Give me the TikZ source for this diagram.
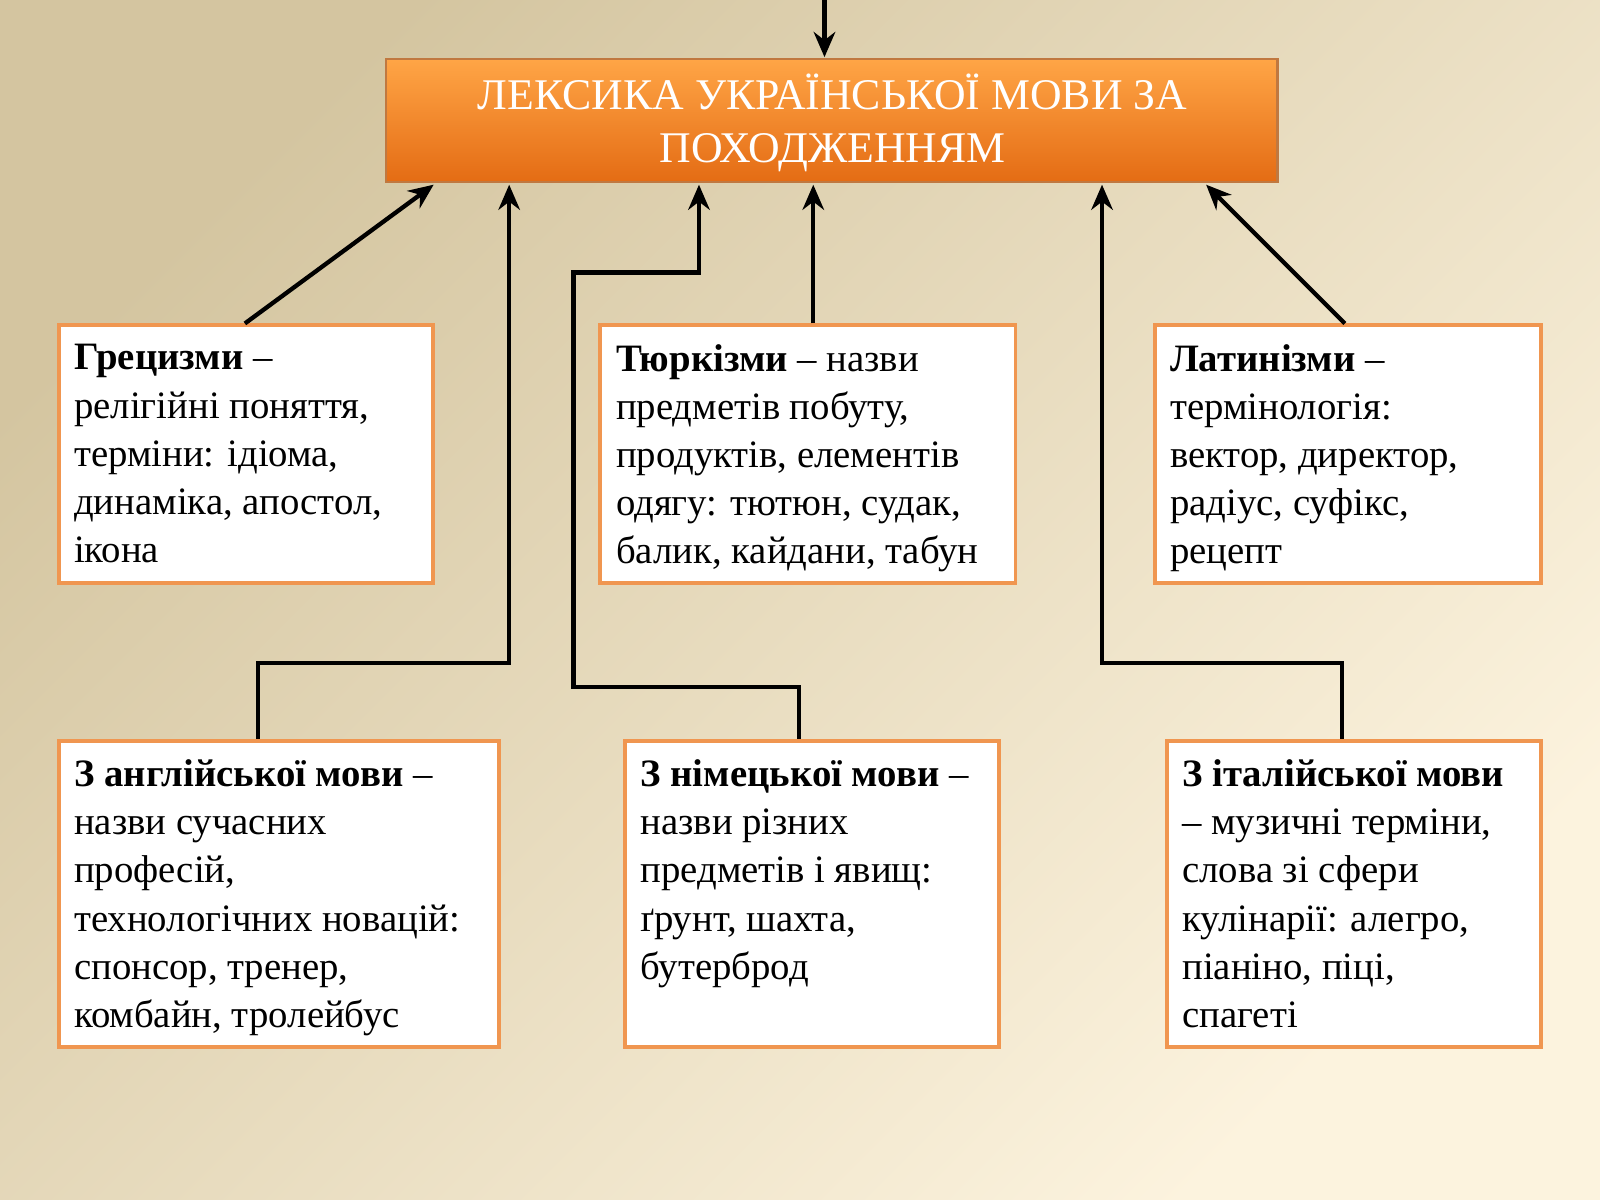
\documentclass[tikz,border=0pt]{standalone}
\usepackage{fontspec}
\setmainfont{Liberation Serif}
\usetikzlibrary{arrows.meta}
\definecolor{BoxLine}{RGB}{240,150,80}
\definecolor{BgDark}{RGB}{212,197,160}
\definecolor{BgLight}{RGB}{252,243,222}
\definecolor{TitleTop}{RGB}{255,165,70}
\definecolor{TitleBot}{RGB}{228,108,20}
\tikzset{
  catbox/.style={draw=BoxLine,line width=1.1pt,fill=white,anchor=north west,inner sep=0pt},
  cattext/.style={anchor=north west,align=left,inner sep=0pt,font=\fontsize{10.8}{13.4}\selectfont},
  link/.style={line width=1.2pt,-{Stealth[length=7pt,width=6pt]}}
}
\begin{document}
\begin{tikzpicture}[x=0.01cm,y=-0.01cm]
  \shade[left color=BgDark,right color=BgLight,shading angle=45] (0,0) rectangle (1568,1176);
  \useasboundingbox (0,0) rectangle (1568,1176);

  % title
  \shade[top color=TitleTop,bottom color=TitleBot,draw=BoxLine!80!black,line width=0.6pt] (378,58) rectangle (1252,178);
  \node[inner sep=0pt,minimum width=8.74cm,minimum height=1.2cm,anchor=north west,align=center,text=white,
        font=\fontsize{12.2}{14.7}\selectfont] (title) at (378,60) {ЛЕКСИКА УКРАЇНСЬКОЇ МОВИ ЗА\\ПОХОДЖЕННЯМ};
  \coordinate (topin) at (808,0);

  % boxes
  \node[catbox,minimum width=3.66cm,minimum height=2.52cm] (greek) at (56,317) {};
  \node[catbox,minimum width=4.07cm,minimum height=2.52cm] (turk) at (586,317) {};
  \node[catbox,minimum width=3.78cm,minimum height=2.52cm] (latin) at (1130,317) {};
  \node[catbox,minimum width=4.31cm,minimum height=3.00cm] (engl) at (56,724) {};
  \node[catbox,minimum width=3.66cm,minimum height=3.00cm] (germ) at (611,724) {};
  \node[catbox,minimum width=3.66cm,minimum height=3.00cm] (ital) at (1142,724) {};

  \node[cattext] (greektxt) at (72,337) {\textbf{Грецизми} –\\релігійні поняття,\\терміни: ідіома,\\динаміка, апостол,\\ікона};
  \node[cattext] (turktxt) at (603,337) {\textbf{Тюркізми} – назви\\предметів побуту,\\продуктів, елементів\\одягу: тютюн, судак,\\балик, кайдани, табун};
  \node[cattext] (latintxt) at (1146,337) {\textbf{Латинізми} –\\термінологія:\\вектор, директор,\\радіус, суфікс,\\рецепт};
  \node[cattext] (engltxt) at (72,744) {\textbf{З англійської мови} –\\назви сучасних\\професій,\\технологічних новацій:\\спонсор, тренер,\\комбайн, тролейбус};
  \node[cattext] (germtxt) at (627,744) {\textbf{З німецької мови} –\\назви різних\\предметів і явищ:\\ґрунт, шахта,\\бутерброд};
  \node[cattext] (italtxt) at (1158,744) {\textbf{З італійської мови}\\– музичні терміни,\\слова зі сфери\\кулінарії: алегро,\\піаніно, піці,\\спагеті};

  % connectors
  \draw[link] (topin) -- (808,56);
  \draw[link] (greek.north west) ++(184,0) -- (425,181);
  \draw[link] (engl.north west) ++(197,0) |- (499,650) -- (499,181);
  \draw[link] (germ.north west) ++(172,0) |- (562,673) |- (685,267) -- (685,181);
  \draw[link] (turk.north west) ++(211,0) -- (797,181);
  \draw[link] (ital.north west) ++(173,0) |- (1080,650) -- (1080,181);
  \draw[link] (latin.north west) ++(188,0) -- (1182,181);
\end{tikzpicture}
\end{document}
